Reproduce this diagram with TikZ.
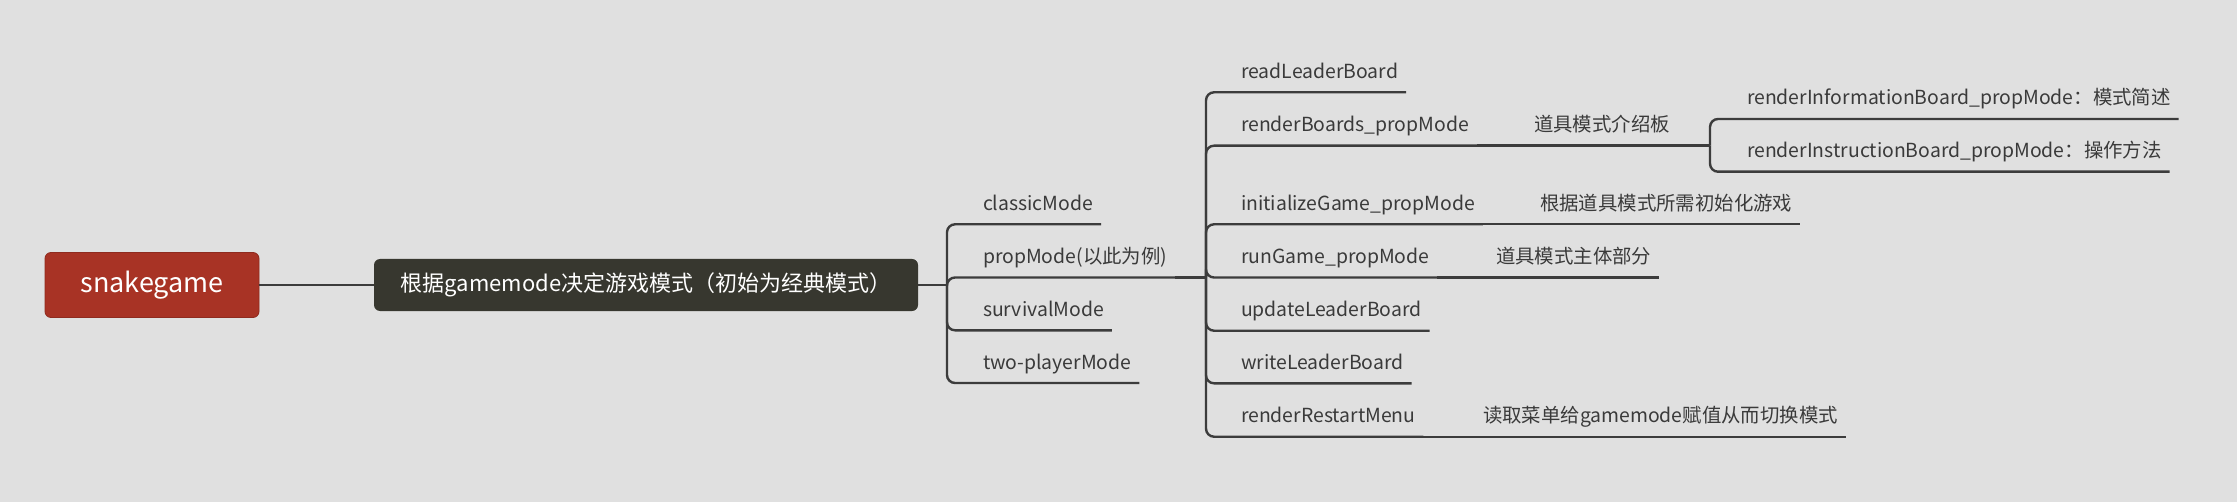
\documentclass[tikz,border=0pt]{standalone}
\usepackage{fontspec}
\setmainfont{Noto Sans CJK SC}
\definecolor{bggray}{HTML}{E0E0E0}
\definecolor{rootred}{HTML}{A83325}
\definecolor{maindark}{HTML}{37372F}
\definecolor{linegray}{HTML}{3C3C3C}
\definecolor{textgray}{HTML}{3A3A3A}

\begin{document}
\begin{tikzpicture}[x=0.5pt,y=-0.5pt,
    root/.style={fill=rootred, draw=rootred!85!black, line width=0.4pt, rounded corners=3pt,
      text=white, font=\fontsize{13.5}{16}\selectfont, minimum width=107pt, minimum height=32.5pt, inner sep=0pt},
    main/.style={fill=maindark, rounded corners=3pt, text=white, font=\fontsize{11}{13}\selectfont,
      minimum width=272pt, minimum height=26pt, inner sep=0pt},
    leaf/.style={anchor=south west, text=textgray, font=\fontsize{9.7}{12}\selectfont,
      text height=7.5pt, text depth=3pt, inner xsep=4pt, inner ysep=4pt, outer sep=0pt},
    link/.style={draw=linegray, line width=1.2pt, rounded corners=4pt}]

          \fill[bggray] (0,0) rectangle (2237,502);

          \node[root] (snake) at (152,285) {snakegame};
          \node[main] (mode) at (646,285) {根据gamemode决定游戏模式（初始为经典模式）};

          \coordinate (b2) at (947,285);
          \node[leaf] (classic) at (975,224.3) {classicMode};
          \node[leaf] (prop) at (975,277.5) {propMode(以此为例)};
          \node[leaf] (survival) at (975,330.3) {survivalMode};
          \node[leaf] (twop) at (975,383) {two-playerMode};

          \coordinate (b3) at (1206,277.5);
          \node[leaf] (readlb) at (1233,92.3) {readLeaderBoard};
          \node[leaf] (boards) at (1233,145.7) {renderBoards\_propMode};
          \node[leaf] (init) at (1233,224.3) {initializeGame\_propMode};
          \node[leaf] (run) at (1233,277.5) {runGame\_propMode};
          \node[leaf] (updlb) at (1233,330.7) {updateLeaderBoard};
          \node[leaf] (writelb) at (1233,383.3) {writeLeaderBoard};
          \node[leaf] (restart) at (1233,436.7) {renderRestartMenu};

          \node[leaf] (boardsnote) at (1526,145.7) {道具模式介绍板};
          \node[leaf] (initnote) at (1532,224.3) {根据道具模式所需初始化游戏};
          \node[leaf] (runnote) at (1488,277.5) {道具模式主体部分};
          \node[leaf] (restartnote) at (1475,436.7) {读取菜单给gamemode赋值从而切换模式};

          \coordinate (b4) at (1710,145.7);
          \node[leaf] (info) at (1739,119) {renderInformationBoard\_propMode：模式简述};
          \node[leaf] (instr) at (1739,171.7) {renderInstructionBoard\_propMode：操作方法};

          \draw[link] (snake) -- (mode);
          \draw[link] (mode) -- (b2);
          \foreach \c in {classic,prop,survival,twop}
            \draw[link] (b2) |- (\c.south east);
          \draw[link] (prop.south east) -- (b3);
          \foreach \c in {readlb,boards,init,run,updlb,writelb,restart}
            \draw[link] (b3) |- (\c.south east);
          \draw[link] (boards.south east) -- (boardsnote.south east) -- (b4);
          \draw[link] (init.south east) -- (initnote.south east);
          \draw[link] (run.south east) -- (runnote.south east);
          \draw[link] (restart.south east) -- (restartnote.south east);
          \foreach \c in {info,instr}
            \draw[link] (b4) |- (\c.south east);
        \end{tikzpicture}
\end{document}
